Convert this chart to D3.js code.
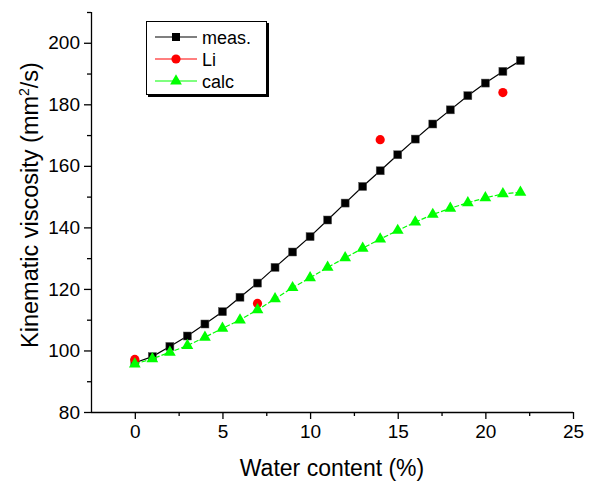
<!DOCTYPE html>
<html><head><meta charset="utf-8">
<script src="https://cdn.jsdelivr.net/npm/d3@7"></script>
<style>body{margin:0;background:#fff}svg{display:block;font-family:"Liberation Sans",Arial,sans-serif}</style>
</head><body>
<svg id="c" width="600" height="485"></svg>
<script>
const measX = [0,1,2,3,4,5,6,7,8,9,10,11,12,13,14,15,16,17,18,19,20,21,22];
const measY = [96.0,98.0,101.3,104.7,108.6,112.6,117.3,121.9,127.0,132.0,137.0,142.4,147.9,153.3,158.4,163.6,168.7,173.6,178.2,182.8,186.9,190.7,194.2];
const liX = [0,7,14,21];
const liY = [97.1,115.3,168.5,183.8];
const calcX = [0,1,2,3,4,5,6,7,8,9,10,11,12,13,14,15,16,17,18,19,20,21,22];
const calcY = [95.6,97.3,99.4,101.6,104.3,107.2,109.9,113.2,116.8,120.4,123.6,127.0,130.1,133.2,136.2,139.0,141.7,144.2,146.2,148.0,149.6,150.9,151.4];
const xTicks = [0,5,10,15,20,25];
const xMinor = [2.5,7.5,12.5,17.5,22.5];
const yTicks = [80,100,120,140,160,180,200];
const yMinor = [90,110,130,150,170,190,210];
const seriesNames = ["meas.","Li","calc"];

const svg = d3.select("#c");
const L=91,R=573,T=12,B=412;
const x = d3.scaleLinear().domain([-2.5,25]).range([L,R]);
const y = d3.scaleLinear().domain([80,210]).range([B,T]);

// axes
const xAxis = svg.append("g").attr("transform",`translate(0,${B})`)
  .call(d3.axisBottom(x).tickValues(xTicks).tickSize(7).tickPadding(6).tickFormat(d3.format("d")));
svg.append("g").attr("transform",`translate(0,${B})`)
  .call(d3.axisBottom(x).tickValues(xMinor).tickSize(4).tickFormat(""))
  .call(g=>g.select(".domain").remove());
const yAxis = svg.append("g").attr("transform",`translate(${L},0)`)
  .call(d3.axisLeft(y).tickValues(yTicks).tickSize(7).tickPadding(4).tickFormat(d3.format("d")));
svg.append("g").attr("transform",`translate(${L},0)`)
  .call(d3.axisLeft(y).tickValues(yMinor).tickSize(4).tickFormat(""))
  .call(g=>g.select(".domain").remove());
xAxis.select(".domain").remove(); yAxis.select(".domain").remove();
svg.append("line").attr("x1",L).attr("x2",R).attr("y1",B+0.5).attr("y2",B+0.5).attr("stroke","#000").attr("stroke-width",1.3);
svg.append("line").attr("x1",L+0.5).attr("x2",L+0.5).attr("y1",T).attr("y2",B).attr("stroke","#000").attr("stroke-width",1.3);
svg.selectAll(".tick line").attr("stroke","#000").attr("stroke-width",1.3);
svg.selectAll(".tick text").attr("font-size",19).attr("fill","#000").attr("font-family","Liberation Sans, Arial, sans-serif");

// titles
svg.append("text").attr("x",(L+R)/2).attr("y",476).attr("text-anchor","middle")
  .attr("font-size",23).text("Water content (%)");
const yt = svg.append("text").attr("transform",`translate(38,205) rotate(-90)`).attr("text-anchor","middle").attr("font-size",23.5);
yt.append("tspan").text("Kinematic viscosity (mm");
yt.append("tspan").attr("font-size",14).attr("dy",-9).text("2");
yt.append("tspan").attr("dy",9).text("/s)");

// series
const line = d3.line().x(d=>x(d[0])).y(d=>y(d[1]));
const meas = measX.map((v,i)=>[v,measY[i]]);
const li = liX.map((v,i)=>[v,liY[i]]);
const calc = calcX.map((v,i)=>[v,calcY[i]]);
const tri = d3.symbol().type(d3.symbolTriangle).size(60);

svg.append("path").datum(meas).attr("d",line).attr("fill","none").attr("stroke","#000").attr("stroke-width",1.2);
svg.selectAll(".sq").data(meas).join("rect").attr("x",d=>x(d[0])-4).attr("y",d=>y(d[1])-4)
  .attr("width",8).attr("height",8).attr("fill","#000").attr("stroke","#555").attr("stroke-width",0.5);
svg.selectAll(".ci").data(li).join("circle").attr("cx",d=>x(d[0])).attr("cy",d=>y(d[1])).attr("r",4.6).attr("fill","#f00");
svg.append("path").datum(calc).attr("d",line).attr("fill","none").attr("stroke","#00ff00").attr("stroke-width",1.2).attr("stroke-dasharray","5,2");
svg.selectAll(".tr").data(calc).join("path").attr("d",tri).attr("transform",d=>`translate(${x(d[0])},${y(d[1])})`).attr("fill","#00ff00");

// legend
const lg = svg.append("g");
lg.append("rect").attr("x",148).attr("y",23).attr("width",121).attr("height",74).attr("fill","#000");
lg.append("rect").attr("x",146.5).attr("y",21.5).attr("width",120).attr("height",73).attr("fill","#fff").attr("stroke","#000").attr("stroke-width",1);
const rows = [{n:seriesNames[0],c:"#000",m:"sq"},{n:seriesNames[1],c:"#f00",m:"ci"},{n:seriesNames[2],c:"#00ff00",m:"tr"}];
const rowY = [37,59,81];
rows.forEach((r,i)=>{
  const yy=rowY[i];
  lg.append("line").attr("x1",155).attr("x2",197).attr("y1",yy).attr("y2",yy).attr("stroke",r.c).attr("stroke-width",1.2);
  if(r.m==="sq") lg.append("rect").attr("x",172).attr("y",yy-4).attr("width",8).attr("height",8).attr("fill","#000");
  if(r.m==="ci") lg.append("circle").attr("cx",176).attr("cy",yy).attr("r",4.6).attr("fill","#f00");
  if(r.m==="tr") lg.append("path").attr("d",tri).attr("transform",`translate(176,${yy})`).attr("fill","#00ff00");
  lg.append("text").attr("x",202).attr("y",yy+6.5).attr("font-size",18).text(r.n);
});
</script>
</body></html>
